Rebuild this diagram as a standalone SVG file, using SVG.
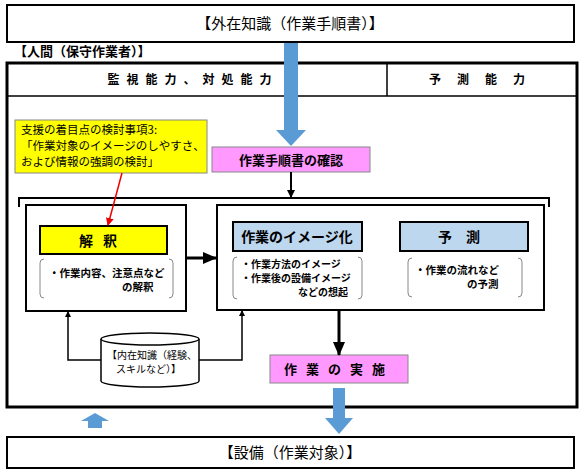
<svg xmlns="http://www.w3.org/2000/svg" width="585" height="470" viewBox="0 0 585 470">
<style>
text{font-family:"Noto Sans CJK JP","Noto Sans",sans-serif;fill:#000}
.b{font-weight:bold}
.box{fill:#fff;stroke:#000;stroke-width:2}
.brk{fill:none;stroke:#888;stroke-width:1}
.ln{fill:none;stroke:#000}
.blue{fill:#5b9bd5}
</style>
<defs>
<marker id="ah" markerWidth="8" markerHeight="8" refX="7" refY="4" orient="auto" markerUnits="userSpaceOnUse"><path d="M0,0 L8,4 L0,8 z" fill="#000"/></marker>
<marker id="ahB" markerWidth="14" markerHeight="12" refX="13" refY="6" orient="auto" markerUnits="userSpaceOnUse"><path d="M0,0 L14,6 L0,12 z" fill="#000"/></marker>
<marker id="ahS" markerWidth="6" markerHeight="6" refX="5" refY="3" orient="auto" markerUnits="userSpaceOnUse"><path d="M0,0 L6,3 L0,6 z" fill="#000"/></marker>
<marker id="ahR" markerWidth="8" markerHeight="8" refX="7" refY="4" orient="auto" markerUnits="userSpaceOnUse"><path d="M0,0 L8,4 L0,8 z" fill="#e00"/></marker>
</defs>
<rect width="585" height="470" fill="#fff"/>

<g id="external">
<rect x="7" y="5" width="567" height="37" class="box"/>
<text x="290" y="29" font-size="15" text-anchor="middle">【外在知識（作業手順書）】</text>
</g>

<g id="human">
<text x="14" y="56" font-size="13" class="b">【人間（保守作業者）】</text>
<rect x="7" y="63" width="570" height="344" fill="none" stroke="#000" stroke-width="3"/>
<line x1="7" y1="96" x2="577" y2="96" class="ln" stroke-width="1.5"/>
<line x1="387" y1="63" x2="387" y2="96" class="ln" stroke-width="1.5"/>
<text x="193" y="84" font-size="12" class="b" text-anchor="middle" letter-spacing="7">監視能力、対処能力</text>
<text x="485" y="84" font-size="12" class="b" text-anchor="middle" letter-spacing="16">予測能力</text>
</g>

<g id="note">
<rect x="15" y="120" width="192" height="53" fill="#ffff00" stroke="#888" stroke-width="1"/>
<text font-size="11.5"><tspan x="21" y="134">支援の着目点の検討事項3:</tspan><tspan x="21" y="150">「作業対象のイメージのしやすさ、</tspan><tspan x="21" y="166">および情報の強調の検討」</tspan></text>
</g>

<g id="confirm">
<rect x="212" y="147" width="158" height="25" fill="#ff99ff" stroke="#888" stroke-width="1"/>
<text x="291" y="165" font-size="13" class="b" text-anchor="middle">作業手順書の確認</text>
</g>

<g id="interpret">
<rect x="26" y="205" width="160" height="106" class="box"/>
<rect x="40" y="226" width="127" height="28" fill="#ffff00" stroke="#000" stroke-width="2"/>
<text x="103" y="246" font-size="14" class="b" text-anchor="middle" letter-spacing="10">解釈</text>
<path d="M44,259 Q40,259 40,263 V294 Q40,298 44,298 M169,259 Q173,259 173,263 V294 Q173,298 169,298" class="brk"/>
<text font-size="10.5" class="b"><tspan x="49" y="277">・作業内容、注意点など</tspan><tspan x="122" y="291">の解釈</tspan></text>
</g>

<g id="image">
<rect x="217" y="205" width="327" height="105" class="box"/>
<rect x="233" y="222" width="129" height="29" fill="#bdd7ee" stroke="#000" stroke-width="2"/>
<text x="297" y="242" font-size="14" class="b" text-anchor="middle">作業のイメージ化</text>
<path d="M237,257 Q233,257 233,261 V295 Q233,299 237,299 M358,257 Q362,257 362,261 V295 Q362,299 358,299" class="brk"/>
<text font-size="10" class="b"><tspan x="241" y="268">・作業方法のイメージ</tspan><tspan x="241" y="282">・作業後の設備イメージ</tspan><tspan x="298" y="296">などの想起</tspan></text>
</g>

<g id="predict">
<rect x="400" y="222" width="128" height="29" fill="#bdd7ee" stroke="#000" stroke-width="2"/>
<text x="466" y="242" font-size="14" class="b" text-anchor="middle" letter-spacing="14">予測</text>
<path d="M412,258 Q408,258 408,262 V293 Q408,297 412,297 M518,258 Q522,258 522,262 V293 Q522,297 518,297" class="brk"/>
<text font-size="10.5" class="b"><tspan x="415" y="274">・作業の流れなど</tspan><tspan x="467" y="288">の予測</tspan></text>
</g>

<g id="tacit">
<path d="M101,339 V381 A49,6 0 0 0 199,381 V339" fill="#fff" stroke="#000" stroke-width="1.5"/>
<ellipse cx="150" cy="339" rx="49" ry="6" fill="#fff" stroke="#000" stroke-width="1.5"/>
<text font-size="10"><tspan x="107" y="359">【内在知識（経験、</tspan><tspan x="116" y="373">スキルなど）】</tspan></text>
</g>

<g id="execute">
<rect x="270" y="355" width="138" height="28" fill="#ff99ff" stroke="#888" stroke-width="1"/>
<text x="339" y="374" font-size="13" class="b" text-anchor="middle" letter-spacing="9">作業の実施</text>
</g>

<g id="equipment">
<rect x="7" y="437" width="567" height="31" class="box"/>
<text x="290" y="458" font-size="15" text-anchor="middle">【設備（作業対象）】</text>
</g>

<g id="connectors">
<path d="M284,43 H298 V130 H306 L291,146 L276,130 H284 Z" class="blue"/>
<path d="M333,388 H345 V418 H353 L339,434 L325,418 H333 Z" class="blue"/>
<path d="M88,428 H102 V421 H109 L95,413 L81,421 H88 Z" class="blue"/>
<line x1="291" y1="172" x2="291" y2="197" class="ln" stroke-width="2" marker-end="url(#ah)"/>
<path d="M19,207 V198 H549 V207" class="ln" stroke-width="2"/>
<line x1="186" y1="258" x2="216" y2="258" class="ln" stroke-width="3" marker-end="url(#ahB)"/>
<line x1="339" y1="311" x2="339" y2="355" class="ln" stroke-width="3" marker-end="url(#ahB)"/>
<path d="M101,360 H68 V312" class="ln" stroke-width="1.5" marker-end="url(#ahS)"/>
<path d="M199,360 H242 V311" class="ln" stroke-width="1.5" marker-end="url(#ahS)"/>
<line x1="122" y1="173" x2="108" y2="225" stroke="#e00" stroke-width="1.5" marker-end="url(#ahR)"/>
</g>
</svg>
